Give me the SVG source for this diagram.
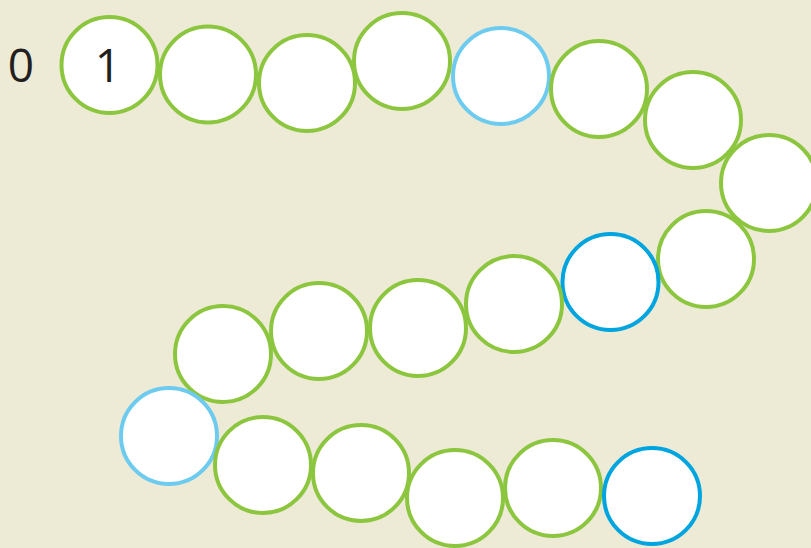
<svg xmlns="http://www.w3.org/2000/svg" width="811" height="548" viewBox="0 0 811 548">
<style>
.n circle{fill:#fff;stroke-width:4}
.g circle{stroke:#8cc63f}
.lb circle{stroke:#6dcbf0}
.b circle{stroke:#00a5e0}
text{font-family:"Open Sans","Liberation Sans",sans-serif;font-size:46px;fill:#231f20;text-anchor:middle}
</style>
<rect width="811" height="548" fill="#edead6"/>
<text x="21" y="82">0</text>
<g id="connectors"></g>
<g id="n1" class="n g"><circle cx="109.5" cy="65" r="48"/><text x="108" y="82">1</text></g>
<g id="n2" class="n g"><circle cx="208" cy="74.5" r="48"/></g>
<g id="n3" class="n g"><circle cx="307" cy="83" r="48"/></g>
<g id="n4" class="n g"><circle cx="402" cy="61" r="48"/></g>
<g id="n5" class="n lb"><circle cx="501" cy="76" r="48"/></g>
<g id="n6" class="n g"><circle cx="599" cy="89" r="48"/></g>
<g id="n7" class="n g"><circle cx="693" cy="120" r="48"/></g>
<g id="n8" class="n g"><circle cx="769" cy="183" r="48"/></g>
<g id="n9" class="n g"><circle cx="706" cy="259" r="48"/></g>
<g id="n10" class="n b"><circle cx="610.5" cy="282" r="48"/></g>
<g id="n11" class="n g"><circle cx="514" cy="304" r="48"/></g>
<g id="n12" class="n g"><circle cx="418" cy="328" r="48"/></g>
<g id="n13" class="n g"><circle cx="319" cy="331" r="48"/></g>
<g id="n14" class="n g"><circle cx="223" cy="354" r="48"/></g>
<g id="n15" class="n lb"><circle cx="169" cy="436" r="48"/></g>
<g id="n16" class="n g"><circle cx="263" cy="465" r="48"/></g>
<g id="n17" class="n g"><circle cx="361" cy="473" r="48"/></g>
<g id="n18" class="n g"><circle cx="455" cy="498" r="48"/></g>
<g id="n19" class="n g"><circle cx="553" cy="488" r="48"/></g>
<g id="n20" class="n b"><circle cx="652" cy="496" r="48"/></g>
</svg>
